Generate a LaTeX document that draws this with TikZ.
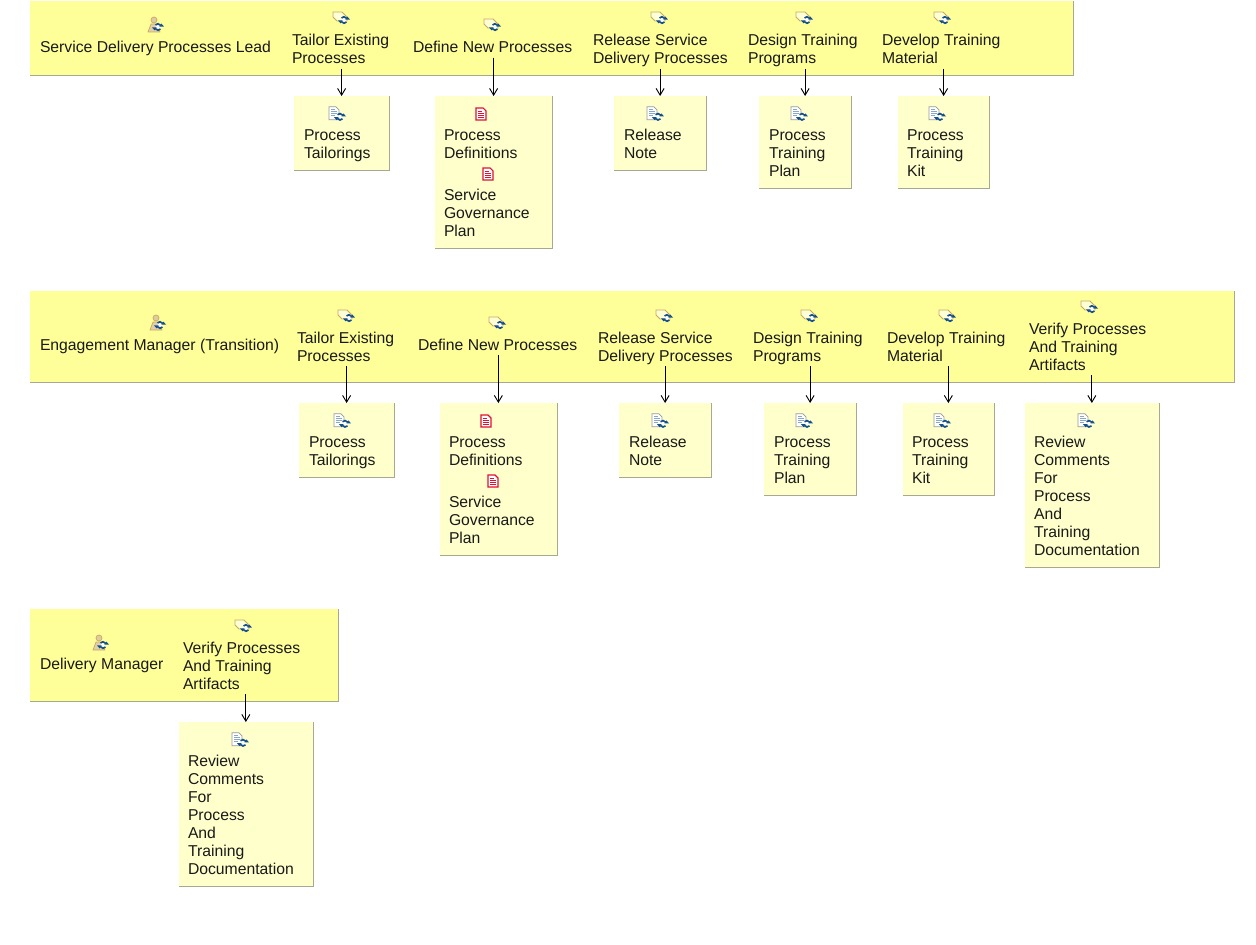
\documentclass[tikz,border=0pt]{standalone}
\usepackage{fontspec}
\setmainfont{Liberation Sans}
\usetikzlibrary{arrows.meta}
\definecolor{bandfill}{HTML}{FFFF99}
\definecolor{panelfill}{HTML}{FFFFCC}
\definecolor{edgegray}{HTML}{A8A890}
\definecolor{cyc}{HTML}{14508C}
\definecolor{tan}{HTML}{C8A860}
\definecolor{docred}{HTML}{E01030}
\tikzset{
  band/.style={fill=bandfill,draw=none,inner sep=0pt,outer sep=0pt},
  panel/.style={fill=panelfill,draw=none,inner sep=0pt,outer sep=0pt},
  shade edge/.style={draw=edgegray,line width=0.65pt},
  label/.style={anchor=north west,inner sep=0pt,outer sep=0pt,align=left,text=black!90,
    font=\fontsize{11.8}{13.5}\selectfont},
  flow/.style={draw=black,line width=0.7pt,xshift=0.45pt,-{Straight Barb[length=5pt,width=6pt]}}
}
% #1 style, #2 name, #3 left, #4 top, #5 right, #6 bottom
\newcommand\areaat[6]{%
  \node[#1,minimum width={(#5-#3-0.8)*0.75pt},minimum height={(#6-#4-0.8)*0.75pt}] (#2) at ({(#3+#5-0.8)/2},{(#4+#6-0.8)/2}) {};
  \draw[shade edge] (#2.north east) -- (#2.south east) -- (#2.south west);
}
% #1 name, #2 left, #3 first baseline, #4 text
\newcommand\lab[4]{\node[label] (#1) at (#2,{#3-12.6}) {\strut #4\strut};}
\newcommand\cyc[2]{\begin{scope}[shift={(#1,#2)}]
  \fill[white] (0,0) circle (2.4);
  \draw[cyc,line width=1.25pt] (150:3.2) arc (150:40:3.2);
  \draw[cyc,line width=1.25pt] (-30:3.2) arc (-30:-140:3.2);
  \fill[cyc] (6,-0.4) -- (1.4,-0.4) -- (3.4,-3.4) -- cycle;
  \fill[cyc] (-6,0.4) -- (-1.4,0.4) -- (-3.4,3.4) -- cycle;
\end{scope}}
\newcommand\roleicon[2]{\begin{scope}[shift={(#1,#2)}]
  \fill[tan!55!white] (-7,7) -- (-4,-1) -- (3,-1) -- (5,7) -- cycle;
  \draw[tan,line width=0.5pt] (-7,7) -- (-4,-1) -- (3,-1) -- (5,7) -- cycle;
  \fill[tan!60!white,draw=tan,line width=0.5pt] (-1,-5) circle (3);
  \cyc{3}{2}
\end{scope}}
\newcommand\taskicon[2]{\begin{scope}[shift={(#1,#2)}]
  \fill[white!60!bandfill,draw=tan,line width=0.7pt] (-8,-6) -- (1,-6) -- (6,-1) -- (6,3) -- (-4,3) -- (-8,-1) -- cycle;
  \cyc{3}{2}
\end{scope}}
\newcommand\workicon[2]{\begin{scope}[shift={(#1,{#2+0.8})}]
  \fill[white,draw=black!40,line width=0.5pt] (-7,-8) -- (0,-8) -- (3,-5) -- (3,5) -- (-7,5) -- cycle;
  \draw[cyc!50!white,line width=0.5pt] (-5,-5) -- (-1,-5) (-5,-3) -- (1,-3) (-5,-1) -- (1,-1) (-5,1) -- (-1,1);
  \cyc{4}{2}
\end{scope}}
\newcommand\redicon[2]{\begin{scope}[shift={(#1,#2)}]
  \fill[white,draw=docred,line width=0.8pt] (-5,-6) -- (2,-6) -- (5,-3) -- (5,6) -- (-5,6) -- cycle;
  \draw[docred,line width=0.7pt] (-3,-3) -- (1,-3) (-3,-1) -- (3,-1) (-3,1) -- (3,1) (-3,3) -- (3,3);
\end{scope}}
\begin{document}
\begin{tikzpicture}[x=0.75pt,y=-0.75pt]
\useasboundingbox[fill=white] (0,0) rectangle (1256,945);
% ---------- first band
\areaat{band}{bandA}{30}{1}{1074}{76}
\roleicon{155}{25}
\lab{aR}{40}{52.2}{Service Delivery Processes Lead}
\taskicon{341}{18}\lab{aT1}{292}{45.2}{Tailor Existing\\Processes}
\taskicon{492}{25}\lab{aT2}{413}{52.2}{Define New Processes}
\taskicon{659}{18}\lab{aT3}{593}{45.2}{Release Service\\Delivery Processes}
\taskicon{804}{18}\lab{aT4}{748}{45.2}{Design Training\\Programs}
\taskicon{942}{18}\lab{aT5}{882}{45.2}{Develop Training\\Material}
\areaat{panel}{aB1}{294}{96}{390}{171}
\workicon{336}{114}\lab{aL1}{304}{140.2}{Process\\Tailorings}
\areaat{panel}{aB2}{435}{96}{553}{249}
\redicon{481}{114}\lab{aL2}{444}{140.2}{Process\\Definitions}
\redicon{488}{174}\lab{aL2b}{444}{200.2}{Service\\Governance\\Plan}
\areaat{panel}{aB3}{614}{96}{707}{171}
\workicon{654}{114}\lab{aL3}{624}{140.2}{Release\\Note}
\areaat{panel}{aB4}{759}{96}{852}{189}
\workicon{798}{114}\lab{aL4}{769}{140.2}{Process\\Training\\Plan}
\areaat{panel}{aB5}{898}{96}{990}{189}
\workicon{936}{114}\lab{aL5}{907}{140.2}{Process\\Training\\Kit}
\foreach \i in {1,...,5}{\draw[flow] (aT\i.south -| aB\i.north) -- (aB\i.north);}
% ---------- second band
\areaat{band}{bandB}{30}{291}{1235}{383}
\roleicon{157}{323}
\lab{bR}{40}{350}{Engagement Manager (Transition)}
\taskicon{346}{316}\lab{bT1}{297}{343}{Tailor Existing\\Processes}
\taskicon{497}{323}\lab{bT2}{418}{350}{Define New Processes}
\taskicon{664}{316}\lab{bT3}{598}{343}{Release Service\\Delivery Processes}
\taskicon{809}{316}\lab{bT4}{753}{343}{Design Training\\Programs}
\taskicon{947}{316}\lab{bT5}{887}{343}{Develop Training\\Material}
\taskicon{1089}{307}\lab{bT6}{1029}{334}{Verify Processes\\And Training\\Artifacts}
\areaat{panel}{bB1}{299}{403}{395}{478}
\workicon{341}{421}\lab{bL1}{309}{447}{Process\\Tailorings}
\areaat{panel}{bB2}{439.5}{403}{558}{556}
\redicon{486}{421}\lab{bL2}{449}{447}{Process\\Definitions}
\redicon{493}{481}\lab{bL2b}{449}{507}{Service\\Governance\\Plan}
\areaat{panel}{bB3}{619}{403}{712}{478}
\workicon{659}{421}\lab{bL3}{629}{447}{Release\\Note}
\areaat{panel}{bB4}{764}{403}{857}{496}
\workicon{803}{421}\lab{bL4}{774}{447}{Process\\Training\\Plan}
\areaat{panel}{bB5}{902.5}{403}{995}{496}
\workicon{941}{421}\lab{bL5}{912}{447}{Process\\Training\\Kit}
\areaat{panel}{bB6}{1024.5}{403}{1160}{568}
\workicon{1085}{421}\lab{bL6}{1034}{447}{Review\\Comments\\For\\Process\\And\\Training\\Documentation}
\foreach \i in {1,...,6}{\draw[flow] (bT\i.south -| bB\i.north) -- (bB\i.north);}
% ---------- third band
\areaat{band}{bandC}{30}{609}{339}{702}
\roleicon{100}{643}
\lab{cR}{40}{669}{Delivery Manager}
\taskicon{243}{626}\lab{cT1}{183}{653}{Verify Processes\\And Training\\Artifacts}
\areaat{panel}{cB1}{178.5}{722}{314}{887}
\workicon{239}{740}\lab{cL1}{188}{766}{Review\\Comments\\For\\Process\\And\\Training\\Documentation}
\draw[flow] (cT1.south -| cB1.north) -- (cB1.north);
\end{tikzpicture}
\end{document}
